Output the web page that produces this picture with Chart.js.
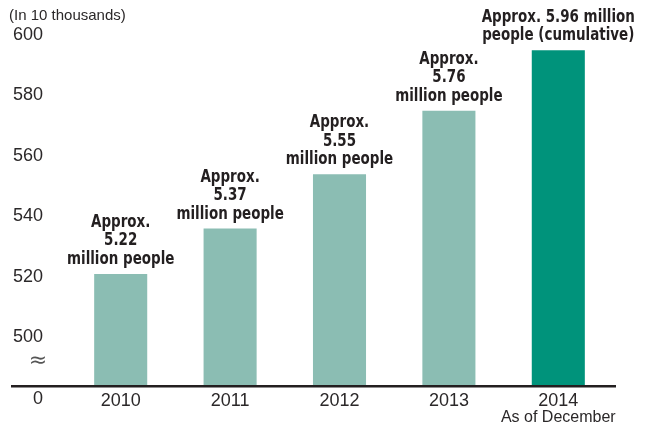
<!DOCTYPE html>
<html>
<head>
<meta charset="utf-8">
<script src="https://cdn.jsdelivr.net/npm/chart.js@4.4.1/dist/chart.umd.min.js"></script>
<style>
  html, body { margin: 0; padding: 0; background: #fff; }
  #wrap { width: 649px; height: 425px; position: relative; }
</style>
</head>
<body>
<div id="wrap"><canvas id="myChart"></canvas></div>
<script>
// data
var years = ["2010", "2011", "2012", "2013", "2014"];
var members = [521, 536, 554, 575, 595]; // in 10 thousands
var barLabels = [
    ["Approx.", "5.22", "million people"],
    ["Approx.", "5.37", "million people"],
    ["Approx.", "5.55", "million people"],
    ["Approx.", "5.76", "million people"],
    ["Approx. 5.96 million", "people (cumulative)"]
];
var subLabels = ["", "", "", "", "As of December"];
var unitText = "(In 10 thousands)";
var zeroLabel = "0";
var breakMark = "\u2248";

var textColor = "#2b2829";
var boldFont = "bold 17px 'DejaVu Sans Condensed', 'Liberation Sans', sans-serif";

var extras = {
    id: "extras",
    afterDraw: function(chart) {
        var c = chart.ctx;
        var area = chart.chartArea;
        var x = chart.scales.x;
        var y = chart.scales.y;
        c.save();

        // unit text
        c.fillStyle = textColor;
        c.font = "15px 'Liberation Sans', sans-serif";
        c.textAlign = "left";
        c.textBaseline = "middle";
        c.fillText(unitText, 9, 16);

        // axis line
        c.strokeStyle = "#231f20";
        c.lineWidth = 2.6;
        c.beginPath();
        c.moveTo(11, area.bottom + 1.3);
        c.lineTo(616, area.bottom + 1.3);
        c.stroke();

        // zero and break mark
        c.font = "18px 'Liberation Sans', sans-serif";
        c.textAlign = "center";
        c.fillText(zeroLabel, 38, area.bottom + 14);
        c.font = "22px 'DejaVu Sans', sans-serif";
        c.fillStyle = "#555";
        c.fillText(breakMark, 38, y.getPixelForValue(492));
        c.fillStyle = textColor;

        // sub labels under the years
        c.font = "16px 'Liberation Sans', sans-serif";
        subLabels.forEach(function(s, i) {
            if (s) c.fillText(s, x.getPixelForValue(i), area.bottom + 33);
        });

        // labels above bars (squeezed to look condensed)
        c.font = boldFont;
        c.fillStyle = "#231f20";
        var squeeze = 0.88;
        var meta = chart.getDatasetMeta(0);
        meta.data.forEach(function(bar, i) {
            var lines = barLabels[i];
            for (var k = 0; k < lines.length; k++) {
                var yy = bar.y - 14.5 - (lines.length - 1 - k) * 18.5;
                c.save();
                c.translate(bar.x, yy);
                c.scale(squeeze, 1);
                c.fillText(lines[k], 0, 0);
                c.restore();
            }
        });
        c.restore();
    }
};

var ctx = document.getElementById("myChart");

var data = {
    labels: years,
    datasets: [
        {
            data: members,
            backgroundColor: ["#8bbdb3", "#8bbdb3", "#8bbdb3", "#8bbdb3", "#00937b"],
            borderWidth: 0,
            categoryPercentage: 1,
            barPercentage: 0.485
        }
    ]
};

var options = {
    responsive: true,
    maintainAspectRatio: false,
    animation: false,
    layout: { padding: { top: 35, right: 36, left: 0, bottom: 0 } },
    plugins: {
        legend: { display: false },
        tooltip: { enabled: false }
    },
    scales: {
        x: {
            grid: { display: false, drawTicks: false },
            border: { display: false },
            ticks: {
                color: textColor,
                font: { size: 18, family: "'Liberation Sans', sans-serif" },
                padding: 5,
                maxRotation: 0
            },
            afterFit: function(scale) { scale.height = 40; }
        },
        y: {
            min: 484.3,
            max: 600,
            grid: { display: false, drawTicks: false },
            border: { display: false },
            ticks: {
                stepSize: 20,
                includeBounds: false,
                color: textColor,
                font: { size: 18, family: "'Liberation Sans', sans-serif" },
                padding: 23
            },
            afterFit: function(scale) { scale.width = 66; }
        }
    }
};

var barChart = new Chart(ctx, {
    type: "bar",
    data: data,
    options: options,
    plugins: [extras]
});
</script>
</body>
</html>
